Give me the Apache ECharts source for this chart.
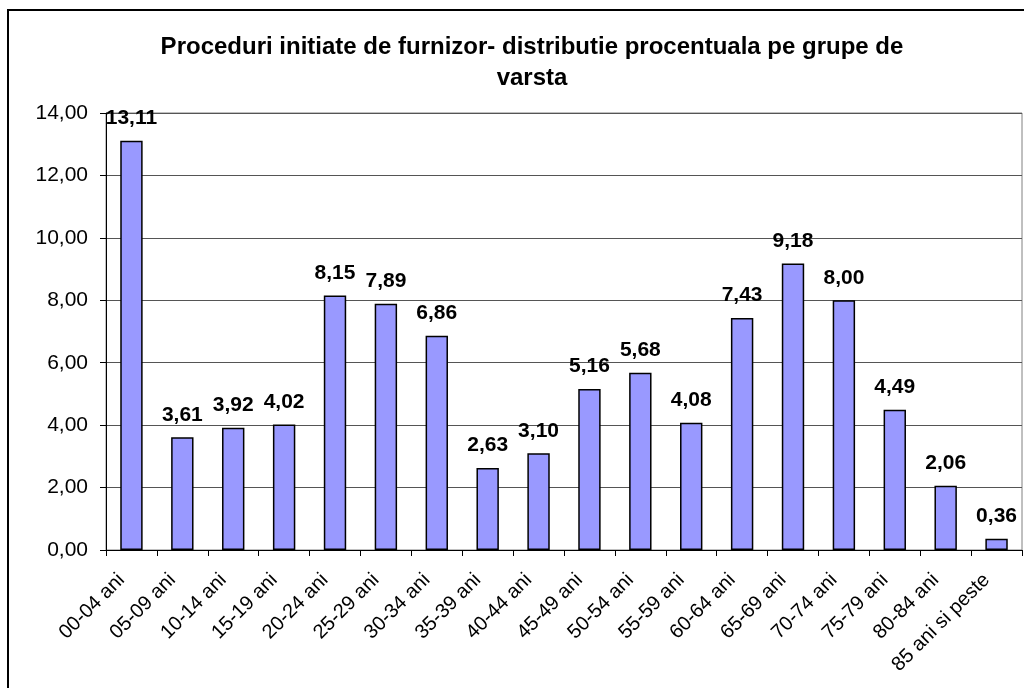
<!DOCTYPE html>
<html>
<head>
<meta charset="utf-8">
<script src="https://cdn.jsdelivr.net/npm/echarts@6/dist/echarts.min.js"></script>
<style>
  html, body { margin: 0; padding: 0; background: #fff; }
  #main { width: 1024px; height: 688px; }
</style>
</head>
<body>
<div id="main"></div>
<script>
// grupe de varsta
const categories = ['00-04 ani', '05-09 ani', '10-14 ani', '15-19 ani', '20-24 ani', '25-29 ani',
  '30-34 ani', '35-39 ani', '40-44 ani', '45-49 ani', '50-54 ani', '55-59 ani', '60-64 ani',
  '65-69 ani', '70-74 ani', '75-79 ani', '80-84 ani', '85 ani si peste'];
// procente
const values = [13.11, 3.61, 3.92, 4.02, 8.15, 7.89, 6.86, 2.63, 3.10, 5.16, 5.68, 4.08,
  7.43, 9.18, 8.00, 4.49, 2.06, 0.36];
const titleText = 'Proceduri initiate de furnizor- distributie procentuala pe grupe de\nvarsta';

const fmt = v => Number(v).toFixed(2).replace('.', ',');
const font = 'Arial, "Liberation Sans", sans-serif';

let myChart = echarts.init(document.getElementById('main'));
myChart.setOption({
  animation: false,
  textStyle: { fontFamily: font },
  title: {
    text: titleText,
    left: 527,
    textAlign: 'center',
    top: 27,
    textStyle: { fontSize: 24, fontWeight: 'bold', color: '#000', lineHeight: 31, fontFamily: font }
  },
  graphic: [{
    type: 'rect',
    shape: { x: 8, y: 10, width: 1200, height: 900 },
    style: { fill: 'none', stroke: '#000', lineWidth: 2 },
    silent: true
  }],
  grid: {
    left: 106, right: 2, top: 113, bottom: 138,
    show: true, borderColor: '#808080', borderWidth: 1
  },
  xAxis: {
    type: 'category',
    data: categories,
    axisLine: { lineStyle: { color: '#000', width: 1 } },
    axisTick: { show: true, length: 6, lineStyle: { color: '#000' } },
    axisLabel: {
      rotate: 45, margin: 17, padding: [0, 14, 0, 0],
      fontSize: 20, color: '#000', interval: 0, fontFamily: font
    }
  },
  yAxis: {
    type: 'value',
    min: 0, max: 14, interval: 2,
    axisLine: { show: true, lineStyle: { color: '#000', width: 1 } },
    axisTick: { show: true, length: 6, lineStyle: { color: '#000' } },
    splitLine: { lineStyle: { color: '#555', width: 1 } },
    axisLabel: { formatter: fmt, fontSize: 21, color: '#000', margin: 18, fontFamily: font }
  },
  series: [{
    type: 'bar',
    data: values,
    barWidth: '44%',
    itemStyle: { color: '#9999FF', borderColor: '#000', borderWidth: 1.5 },
    label: {
      show: true,
      position: 'top',
      distance: 12,
      formatter: p => fmt(p.value),
      fontSize: 21,
      fontWeight: 'bold',
      color: '#000',
      fontFamily: font
    }
  }]
});
</script>
</body>
</html>
